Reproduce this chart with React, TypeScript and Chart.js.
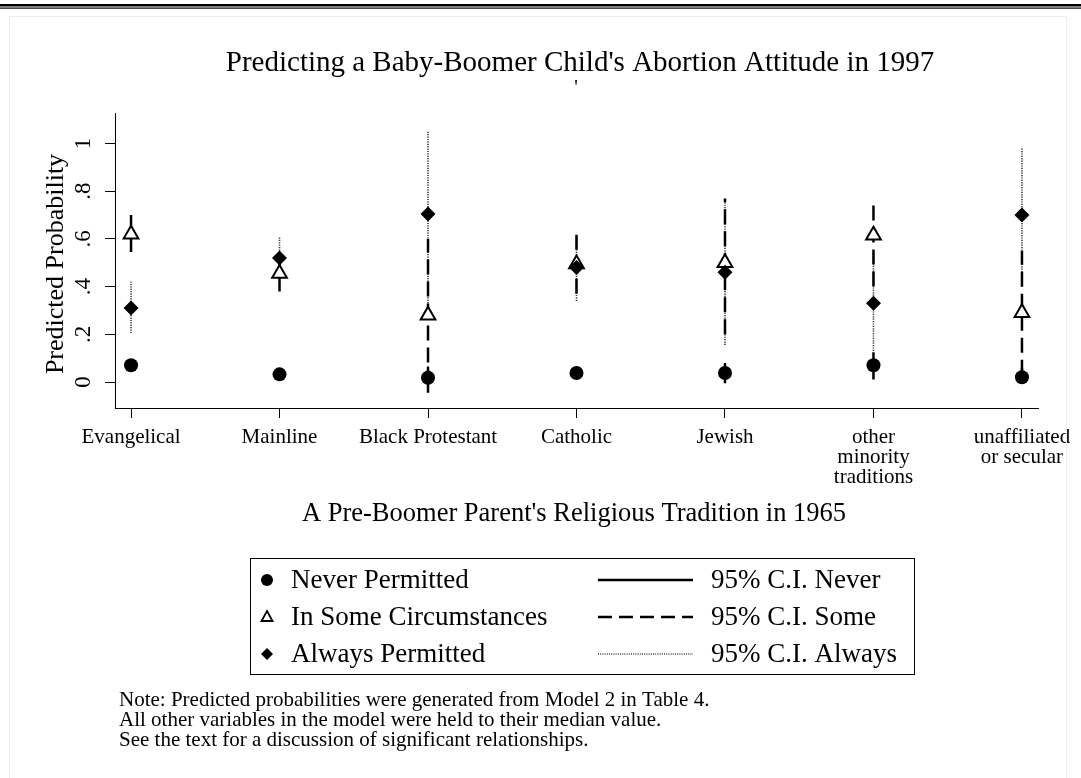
import React, { useEffect, useRef } from "react";
import { Chart, registerables } from "chart.js";

Chart.register(...registerables);

const categories: (string | string[])[] = [
  "Evangelical",
  "Mainline",
  "Black Protestant",
  "Catholic",
  "Jewish",
  ["other", "minority", "traditions"],
  ["unaffiliated", "or secular"],
];

const neverPermitted = [0.07, 0.032, 0.018, 0.038, 0.038, 0.07, 0.02];
const neverLow = [0.045, 0.018, -0.045, 0.022, -0.005, 0.01, 0.0];
const neverHigh = [0.095, 0.048, 0.065, 0.055, 0.08, 0.125, 0.06];

const someCircumstances = [0.62, 0.455, 0.28, 0.495, 0.5, 0.615, 0.29];
const someLow = [0.545, 0.38, -0.01, 0.37, 0.2, 0.4, 0.03];
const someHigh = [0.705, 0.52, 0.6, 0.62, 0.77, 0.77, 0.55];

const alwaysPermitted = [0.31, 0.52, 0.705, 0.48, 0.46, 0.33, 0.7];
const alwaysLow = [0.205, 0.44, 0.33, 0.34, 0.155, 0.13, 0.4];
const alwaysHigh = [0.42, 0.61, 1.05, 0.61, 0.76, 0.55, 0.98];

const yTickValues = [0, 0.2, 0.4, 0.6, 0.8, 1];
const yTickLabels = ["0", ".2", ".4", ".6", ".8", "1"];

const titleText = "Predicting a Baby-Boomer Child's Abortion Attitude in 1997";
const xTitleText = "A Pre-Boomer Parent's Religious Tradition in 1965";
const yTitleText = "Predicted Probability";
const legendLeft = ["Never Permitted", "In Some Circumstances", "Always Permitted"];
const legendRight = ["95% C.I. Never", "95% C.I. Some", "95% C.I. Always"];
const noteLines = [
  "Note: Predicted probabilities were generated from Model 2 in Table 4.",
  "All other variables in the model were held to their median value.",
  "See the text for a discussion of significant relationships.",
];

const SERIF = '"Liberation Serif", "Times New Roman", Times, serif';

function pts(vals: number[]) {
  return vals.map((v, i) => ({ x: i + 1, y: v }));
}
function ciData(lo: number[], hi: number[]) {
  const out: { x: number; y: number | null }[] = [];
  lo.forEach((l, i) => {
    out.push({ x: i + 1, y: l }, { x: i + 1, y: hi[i] }, { x: i + 1, y: null });
  });
  return out;
}

const decorPlugin = {
  id: "decor",
  afterDraw(chart: any) {
    const ctx: CanvasRenderingContext2D = chart.ctx;
    const yScale = chart.scales.y;
    ctx.save();
    // top rules
    ctx.fillStyle = "#000";
    ctx.fillRect(0, 4, 1081, 2.5);
    ctx.fillRect(0, 7.5, 1081, 1.2);
    // faint frame
    ctx.strokeStyle = "#ececec";
    ctx.lineWidth = 1;
    ctx.beginPath();
    ctx.moveTo(9.5, 778);
    ctx.lineTo(9.5, 16.5);
    ctx.lineTo(1066.5, 16.5);
    ctx.lineTo(1066.5, 778);
    ctx.stroke();

    ctx.fillStyle = "#000";
    // title
    ctx.font = `29px ${SERIF}`;
    ctx.textAlign = "center";
    ctx.textBaseline = "alphabetic";
    ctx.fillText(titleText, 580, 71);
    ctx.font = `20px ${SERIF}`;
    ctx.textBaseline = "top";
    ctx.fillText("'", 576, 79);

    // y title
    ctx.save();
    ctx.translate(63, 264);
    ctx.rotate(-Math.PI / 2);
    ctx.font = `26px ${SERIF}`;
    ctx.textAlign = "center";
    ctx.textBaseline = "alphabetic";
    ctx.fillText(yTitleText, 0, 0);
    ctx.restore();

    // y tick labels (rotated)
    ctx.font = `23px ${SERIF}`;
    yTickValues.forEach((v, i) => {
      const py = yScale.getPixelForValue(v);
      ctx.save();
      ctx.translate(90, py);
      ctx.rotate(-Math.PI / 2);
      ctx.textAlign = "center";
      ctx.textBaseline = "alphabetic";
      ctx.fillText(yTickLabels[i], 0, 0);
      ctx.restore();
    });

    // x title
    ctx.font = `26.5px ${SERIF}`;
    ctx.textAlign = "center";
    ctx.textBaseline = "alphabetic";
    ctx.fillText(xTitleText, 574, 521);

    // legend box
    const bx = 250, by = 558, bw = 664, bh = 116;
    ctx.strokeStyle = "#000";
    ctx.lineWidth = 1;
    ctx.strokeRect(bx + 0.5, by + 0.5, bw, bh);
    const rows = [580, 617, 654];
    ctx.font = `27px ${SERIF}`;
    ctx.textAlign = "left";
    ctx.textBaseline = "middle";
    rows.forEach((ry, i) => {
      const mx = 267;
      ctx.fillStyle = "#000";
      ctx.strokeStyle = "#000";
      if (i === 0) {
        ctx.beginPath();
        ctx.arc(mx, ry, 6, 0, Math.PI * 2);
        ctx.fill();
      } else if (i === 1) {
        ctx.beginPath();
        ctx.moveTo(mx, ry - 6);
        ctx.lineTo(mx + 5.5, ry + 4);
        ctx.lineTo(mx - 5.5, ry + 4);
        ctx.closePath();
        ctx.lineWidth = 1.8;
        ctx.stroke();
      } else {
        ctx.beginPath();
        ctx.moveTo(mx, ry - 6);
        ctx.lineTo(mx + 6, ry);
        ctx.lineTo(mx, ry + 6);
        ctx.lineTo(mx - 6, ry);
        ctx.closePath();
        ctx.fill();
      }
      ctx.fillStyle = "#000";
      ctx.fillText(legendLeft[i], 291, ry + 1);
      // line samples
      ctx.beginPath();
      if (i === 0) {
        ctx.setLineDash([]);
        ctx.lineWidth = 2.5;
        ctx.strokeStyle = "#000";
      } else if (i === 1) {
        ctx.setLineDash([14, 7]);
        ctx.lineWidth = 2.5;
        ctx.strokeStyle = "#000";
      } else {
        ctx.setLineDash([1, 1.2]);
        ctx.lineWidth = 1.6;
        ctx.strokeStyle = "#444";
      }
      ctx.moveTo(598, ry);
      ctx.lineTo(693, ry);
      ctx.stroke();
      ctx.setLineDash([]);
      ctx.fillText(legendRight[i], 711, ry + 1);
    });

    // notes
    ctx.font = `21px ${SERIF}`;
    ctx.textBaseline = "middle";
    noteLines.forEach((t, i) => ctx.fillText(t, 119, 700 + i * 20));
    ctx.restore();
  },
};

export default function App() {
  const ref = useRef<HTMLCanvasElement>(null);
  useEffect(() => {
    document.body.style.margin = "0";
    const canvas = ref.current;
    if (!canvas) return;
    const xTickValues = categories.map((_, i) => i + 1);
    const chart = new Chart(canvas, {
      type: "scatter",
      data: {
        datasets: [
          {
            label: "Always Permitted",
            data: pts(alwaysPermitted),
            pointStyle: "rectRot",
            pointRadius: 7.5,
            backgroundColor: "#000",
            borderColor: "#000",
            borderWidth: 0,
            showLine: false,
          },
          {
            label: "In Some Circumstances",
            data: pts(someCircumstances),
            pointStyle: "triangle",
            pointRadius: 8.5,
            backgroundColor: "#fff",
            borderColor: "#000",
            borderWidth: 2,
            showLine: false,
          },
          {
            label: "Never Permitted",
            data: pts(neverPermitted),
            pointStyle: "circle",
            pointRadius: 7,
            backgroundColor: "#000",
            borderColor: "#000",
            borderWidth: 0,
            showLine: false,
          },
          {
            label: "95% C.I. Never",
            data: ciData(neverLow, neverHigh),
            showLine: true,
            pointRadius: 0,
            borderColor: "#000",
            borderWidth: 2.5,
            spanGaps: false,
          },
          {
            label: "95% C.I. Some",
            data: ciData(someLow, someHigh),
            showLine: true,
            pointRadius: 0,
            borderColor: "#000",
            borderWidth: 2.5,
            borderDash: [15, 7],
            spanGaps: false,
          },
          {
            label: "95% C.I. Always",
            data: ciData(alwaysLow, alwaysHigh),
            showLine: true,
            pointRadius: 0,
            borderColor: "#333",
            borderWidth: 1.6,
            borderDash: [1.2, 1.2],
            spanGaps: false,
          },
        ] as any,
      },
      options: {
        animation: false,
        responsive: false,
        events: [],
        layout: { padding: { top: 113, right: 43, left: 0, bottom: 0 } },
        plugins: { legend: { display: false }, tooltip: { enabled: false }, title: { display: false } },
        scales: {
          x: {
            type: "linear",
            min: 0.892,
            max: 7.108,
            afterBuildTicks: (s: any) => {
              s.ticks = xTickValues.map((v) => ({ value: v }));
            },
            afterFit: (s: any) => {
              s.height = 370;
            },
            ticks: {
              autoSkip: false,
              maxRotation: 0,
              minRotation: 0,
              padding: 10,
              color: "#000",
              font: { family: SERIF, size: 21, lineHeight: 0.95 },
              callback: (v: any) => categories[Math.round(Number(v)) - 1] as any,
            },
            grid: { drawOnChartArea: false, drawTicks: true, tickLength: 10, color: "#000", lineWidth: 1 },
            border: { display: true, color: "#000", width: 1 },
          },
          y: {
            type: "linear",
            min: -0.109,
            max: 1.128,
            afterBuildTicks: (s: any) => {
              s.ticks = yTickValues.map((v) => ({ value: v }));
            },
            afterFit: (s: any) => {
              s.width = 115;
            },
            ticks: { color: "rgba(0,0,0,0)", font: { family: SERIF, size: 20 } },
            grid: { drawOnChartArea: false, drawTicks: true, tickLength: 10, color: "#000", lineWidth: 1 },
            border: { display: true, color: "#000", width: 1 },
          },
        },
      } as any,
      plugins: [decorPlugin],
    });
    return () => chart.destroy();
  }, []);
  return <canvas ref={ref} width={1081} height={778} style={{ display: "block", width: 1081, height: 778 }} />;
}
